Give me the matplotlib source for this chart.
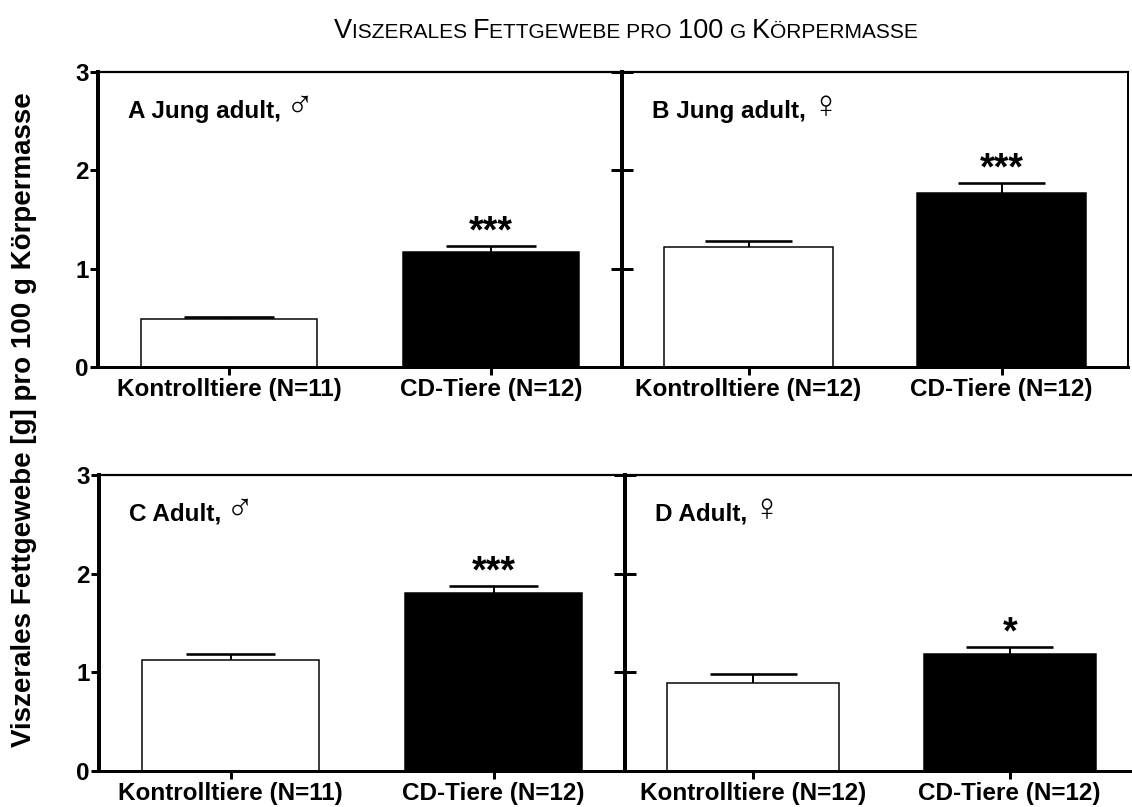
import matplotlib

matplotlib.use("Agg")
import matplotlib.pyplot as plt
from matplotlib.offsetbox import AnchoredOffsetbox, HPacker, TextArea

plt.rcParams["font.family"] = ["Liberation Sans", "DejaVu Sans"]

# ── data ──────────────────────────────────────────────────────────────────────
groups = ["Kontrolltiere", "CD-Tiere"]
panel_names = ["A Jung adult,", "B Jung adult,", "C Adult,", "D Adult,"]
panel_sex = ["\u2642", "\u2640", "\u2642", "\u2640"]
n_animals = [[11, 12], [12, 12], [11, 12], [12, 12]]
means = [[0.49, 1.17], [1.22, 1.77], [1.12, 1.80], [0.89, 1.19]]
sems = [[0.02, 0.06], [0.06, 0.10], [0.07, 0.07], [0.09, 0.065]]
stars = [["", "***"], ["", "***"], ["", "***"], ["", "*"]]
yticks = [0, 1, 2, 3]

# title in small caps: (text, large?)
title_parts = [("V", True), ("ISZERALES ", False), ("F", True), ("ETTGEWEBE PRO ", False),
               ("100 ", True), ("G ", False), ("K", True), ("ÖRPERMASSE", False)]

# ── layout (pixels, origin top-left) ─────────────────────────────────────────
W, H = 1132, 807
BOXES = [(98, 72, 622, 367), (622, 72, 1128, 367),
         (99, 475, 625, 771), (625, 475, 1138, 771)]
FS = 17.5
PX = 0.72  # points per pixel at dpi 100

fig = plt.figure(figsize=(W / 100, H / 100), dpi=100, facecolor="white")


def add_axes(box):
    x0, y0, x1, y1 = box
    return fig.add_axes([x0 / W, 1 - y1 / H, (x1 - x0) / W, (y1 - y0) / H])


for i, box in enumerate(BOXES):
    ax = add_axes(box)
    first_col = i % 2 == 0
    x = [0, 1]
    ax.bar(x, means[i], width=0.67, color=["white", "black"], edgecolor="black",
           linewidth=1.5 * PX, zorder=2)
    # upper error bars only
    tops = [m + s for m, s in zip(means[i], sems[i])]
    ax.vlines(x, means[i], tops, color="black", linewidth=2 * PX, zorder=3)
    ax.hlines(tops, [v - 0.17 for v in x], [v + 0.17 for v in x], color="black",
              linewidth=2.6 * PX, zorder=3)
    for xi, t, s in zip(x, tops, stars[i]):
        if s:
            ax.text(xi, t + 0.04, s, ha="center", va="baseline", fontsize=27,
                    fontweight="bold")

    ax.set_xlim(-0.5, 1.5)
    ax.set_ylim(0, 3)
    ax.set_xticks(x, [f"{g} (N={n})" for g, n in zip(groups, n_animals[i])],
                  fontweight="bold", fontsize=FS)
    ax.set_yticks(yticks)
    ax.tick_params(axis="x", direction="out", length=8 * PX, width=3 * PX, pad=2)

    if first_col:
        ax.set_yticklabels([str(t) for t in yticks], fontweight="bold", fontsize=FS)
        ax.tick_params(axis="y", direction="out", length=8 * PX, width=3 * PX, pad=1)
        ax.spines["right"].set_visible(False)
    else:
        ax.tick_params(axis="y", direction="inout", length=23 * PX, width=3 * PX,
                       labelleft=False)
        if i == 3:
            ax.spines["right"].set_visible(False)
        else:
            ax.spines["right"].set_linewidth(2 * PX)

    ax.spines["left"].set_linewidth(4 * PX)
    ax.spines["bottom"].set_linewidth(3 * PX)
    ax.spines["top"].set_linewidth(2.2 * PX)
    for sp in ax.spines.values():
        sp.set_zorder(4)

    # panel heading with the sex symbol in a lighter weight
    head = ax.annotate(panel_names[i], xy=(0, 1), xycoords="axes fraction",
                       xytext=(30, -46), textcoords="offset pixels",
                       ha="left", va="baseline", fontweight="bold", fontsize=FS)
    ax.annotate(panel_sex[i], xy=(1, 0), xycoords=head, xytext=(5, -2),
                textcoords="offset pixels", ha="left", va="bottom",
                fontsize=27, fontweight="light")

fig.text(24 / W, 1 - 420 / H, "Viszerales Fettgewebe [g] pro 100 g Körpermasse",
         rotation=90, ha="center", va="center", fontweight="bold", fontsize=20)

parts = [TextArea(t, textprops=dict(fontsize=19.5 if big else 15))
         for t, big in title_parts]
title = HPacker(children=parts, align="baseline", pad=0, sep=0)
fig.add_artist(AnchoredOffsetbox(loc="center", child=title, pad=0, borderpad=0,
                                 frameon=False, bbox_to_anchor=(626 / W, 1 - 31 / H),
                                 bbox_transform=fig.transFigure))

fig.savefig("out.png", dpi=100, facecolor="white")
